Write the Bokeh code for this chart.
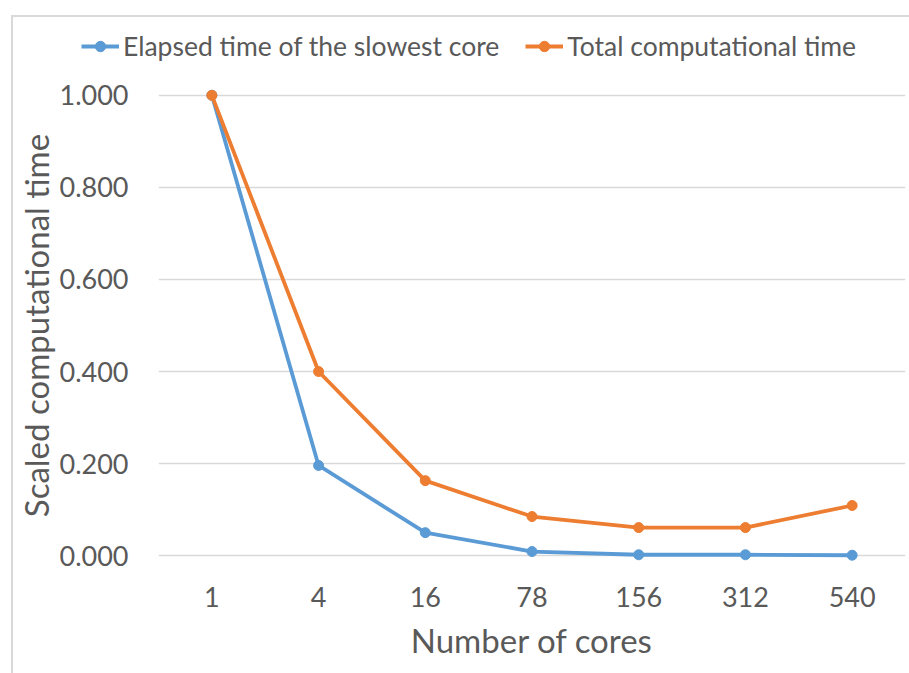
from bokeh.plotting import figure
from bokeh.layouts import column
from bokeh.models import Legend, LegendItem, Range1d, FixedTicker, NumeralTickFormatter
from bokeh.embed import file_html
from bokeh.resources import INLINE

cores = ["1", "4", "16", "78", "156", "312", "540"]
slowest_core = [1.000, 0.196, 0.050, 0.009, 0.002, 0.002, 0.001]
total_time = [1.000, 0.400, 0.163, 0.085, 0.061, 0.061, 0.109]
y_ticks = [0.0, 0.2, 0.4, 0.6, 0.8, 1.0]
series_names = ["Elapsed time of the slowest core", "Total computational time"]

BLUE = "#5B9BD5"
ORANGE = "#ED7D31"
TEXT = "#595959"
GRID = "#D9D9D9"
FONT = "Lato"

# ---- main chart ----
p = figure(
    x_range=cores,
    y_range=Range1d(-0.03, 1.03),
    width=896, height=604,
    min_border_left=144, min_border_right=4,
    min_border_top=12, min_border_bottom=104,
    output_backend="svg", toolbar_location=None,
)
p.frame_align = False
p.outline_line_color = None
p.background_fill_color = "white"
p.border_fill_color = "white"

p.xgrid.grid_line_color = None
p.ygrid.grid_line_color = GRID
p.ygrid.grid_line_width = 1.5

p.yaxis.ticker = FixedTicker(ticks=y_ticks)
p.yaxis.formatter = NumeralTickFormatter(format="0.000")
for ax in (p.xaxis[0], p.yaxis[0]):
    ax.axis_line_color = None
    ax.major_tick_line_color = None
    ax.minor_tick_line_color = None
    ax.major_label_text_font = FONT
    ax.major_label_text_font_size = "27px"
    ax.major_label_text_color = TEXT
    ax.axis_label_text_font = FONT
    ax.axis_label_text_font_size = "33px"
    ax.axis_label_text_font_style = "normal"
    ax.axis_label_text_color = TEXT

p.yaxis.axis_label = "Scaled computational time"
p.xaxis.axis_label = "Number of cores"
p.yaxis.major_label_standoff = 24
p.yaxis.axis_label_standoff = 0
p.xaxis.major_label_standoff = 11
p.xaxis.axis_label_standoff = 10

p.line(cores, slowest_core, line_color=BLUE, line_width=3.8)
p.scatter(cores, slowest_core, size=10, fill_color=BLUE, line_color=BLUE)
p.line(cores, total_time, line_color=ORANGE, line_width=3.8)
p.scatter(cores, total_time, size=10, fill_color=ORANGE, line_color=ORANGE)

# ---- legend strip above the chart (same series, same styles; data out of view) ----
lg = figure(
    width=896, height=52,
    x_range=cores, y_range=Range1d(10, 11),
    x_axis_type=None, y_axis_type=None,
    min_border_left=0, min_border_right=0, min_border_top=0, min_border_bottom=0,
    output_backend="svg", toolbar_location=None,
)
lg.frame_align = False
lg.outline_line_color = None
lg.xgrid.visible = False
lg.ygrid.visible = False
ll1 = lg.line(cores, slowest_core, line_color=BLUE, line_width=3.8)
ls1 = lg.scatter(cores, slowest_core, size=10, fill_color=BLUE, line_color=BLUE)
ll2 = lg.line(cores, total_time, line_color=ORANGE, line_width=3.8)
ls2 = lg.scatter(cores, total_time, size=10, fill_color=ORANGE, line_color=ORANGE)

legend = Legend(
    items=[
        LegendItem(label=series_names[0], renderers=[ll1, ls1]),
        LegendItem(label=series_names[1], renderers=[ll2, ls2]),
    ],
    orientation="horizontal",
    location=(68, 7),
    label_text_font=FONT,
    label_text_font_size="26.5px",
    label_text_color=TEXT,
    glyph_width=38, glyph_height=26, label_height=26,
    label_standoff=4, spacing=26, padding=0, margin=0,
    border_line_color=None, background_fill_alpha=0,
)
lg.add_layout(legend, "center")

layout = column(
    lg, p, spacing=0,
    margin=(15, 0, 0, 11),
    styles={"border-left": "2px solid #D9D9D9", "border-top": "2px solid #D9D9D9",
            "background-color": "white"},
)

open("out.html", "w").write(file_html(layout, INLINE))
